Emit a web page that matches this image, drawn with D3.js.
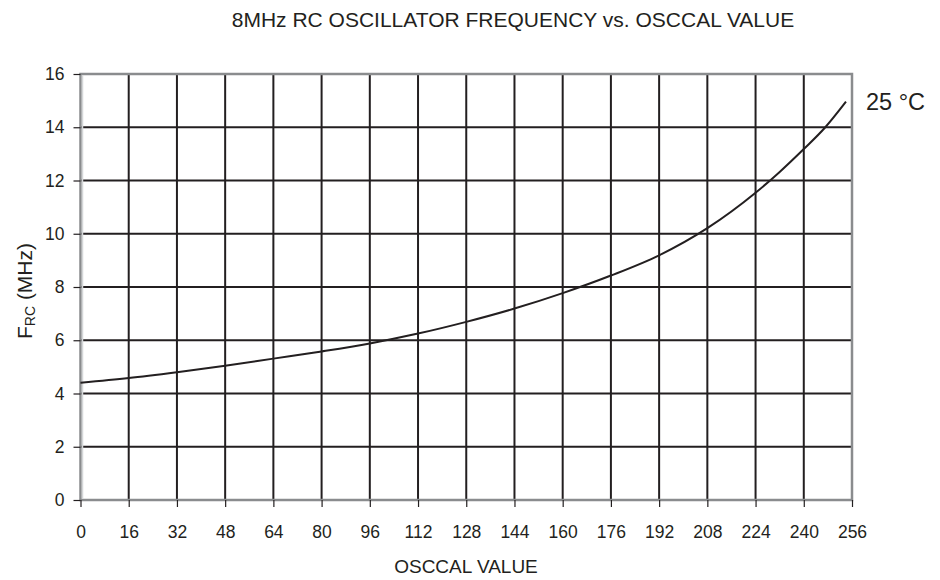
<!DOCTYPE html>
<html>
<head>
<meta charset="utf-8">
<script src="https://cdn.jsdelivr.net/npm/d3@7"></script>
<style>
  html, body { margin: 0; padding: 0; background: #fff; }
  svg text { font-family: "Liberation Sans", Arial, sans-serif; fill: #231f20; }
</style>
</head>
<body>
<svg id="chart" width="940" height="580"></svg>
<script>
// ---- data ----
const oscCal = [0, 16, 32, 48, 64, 80, 96, 112, 128, 144, 160, 176, 192, 208, 224, 232, 240, 247, 254];
const freq25 = [4.40, 4.58, 4.80, 5.04, 5.31, 5.58, 5.88, 6.25, 6.69, 7.19, 7.77, 8.43, 9.19, 10.21, 11.54, 12.32, 13.18, 13.98, 14.96];
const xTicks = [0, 16, 32, 48, 64, 80, 96, 112, 128, 144, 160, 176, 192, 208, 224, 240, 256];
const yTicks = [0, 2, 4, 6, 8, 10, 12, 14, 16];
const seriesLabel = "25 °C";
const titleText = "8MHz RC OSCILLATOR FREQUENCY vs. OSCCAL VALUE";
const xLabel = "OSCCAL VALUE";

// ---- layout ----
const svg = d3.select("#chart");
const L = 80.5, R = 852, T = 74, B = 500;
const x = d3.scaleLinear().domain([0, 256]).range([L, R]);
const y = d3.scaleLinear().domain([0, 16]).range([B, T]);
const ink = "#231f20";

// grid
svg.append("g").selectAll("line").data(xTicks.slice(1, -1)).join("line")
  .attr("x1", d => x(d)).attr("x2", d => x(d)).attr("y1", T).attr("y2", B)
  .attr("stroke", ink).attr("stroke-width", 2);
svg.append("g").selectAll("line").data(yTicks.slice(1, -1)).join("line")
  .attr("x1", L).attr("x2", R).attr("y1", d => y(d)).attr("y2", d => y(d))
  .attr("stroke", ink).attr("stroke-width", 2);

// frame
svg.append("rect").attr("x", L).attr("y", T).attr("width", R - L).attr("height", B - T)
  .attr("fill", "none").attr("stroke", "#8a8c8e").attr("stroke-width", 2.5);
svg.append("line").attr("x1", L + 2).attr("x2", L + 2).attr("y1", T + 1).attr("y2", B - 1)
  .attr("stroke", "#d4d6d8").attr("stroke-width", 1.5);

// axes
const xAxis = svg.append("g").attr("transform", `translate(0,${B})`)
  .call(d3.axisBottom(x).tickValues(xTicks).tickSize(7).tickPadding(19).tickFormat(d3.format("d")));
const yAxis = svg.append("g").attr("transform", `translate(${L},0)`)
  .call(d3.axisLeft(y).tickValues(yTicks).tickSize(7).tickPadding(9).tickFormat(d3.format("d")));
[xAxis, yAxis].forEach(g => {
  g.select(".domain").remove();
  g.selectAll(".tick line").attr("stroke", ink).attr("stroke-width", 1.2);
  g.selectAll(".tick text").attr("font-size", 17.5).attr("fill", ink)
    .attr("font-family", "'Liberation Sans', Arial, sans-serif");
});

// curve
const pts = oscCal.map((d, i) => [d, freq25[i]]);
svg.append("path").datum(pts)
  .attr("fill", "none").attr("stroke", ink).attr("stroke-width", 2)
  .attr("d", d3.line().x(d => x(d[0])).y(d => y(d[1])).curve(d3.curveMonotoneX));

// series label
svg.append("text").attr("x", 866).attr("y", 110).attr("font-size", 23.5).text(seriesLabel);

// title
svg.append("text").attr("x", 513).attr("y", 27).attr("text-anchor", "middle")
  .attr("font-size", 21).text(titleText);

// x label
svg.append("text").attr("x", 466).attr("y", 573).attr("text-anchor", "middle")
  .attr("font-size", 19).text(xLabel);

// y label
const yl = svg.append("text").attr("transform", "translate(32,291) rotate(-90)")
  .attr("text-anchor", "middle").attr("font-size", 21);
yl.append("tspan").text("F");
yl.append("tspan").attr("font-size", 14).attr("dy", 3).text("RC");
yl.append("tspan").attr("dy", -3).text(" (MHz)");
</script>
</body>
</html>
